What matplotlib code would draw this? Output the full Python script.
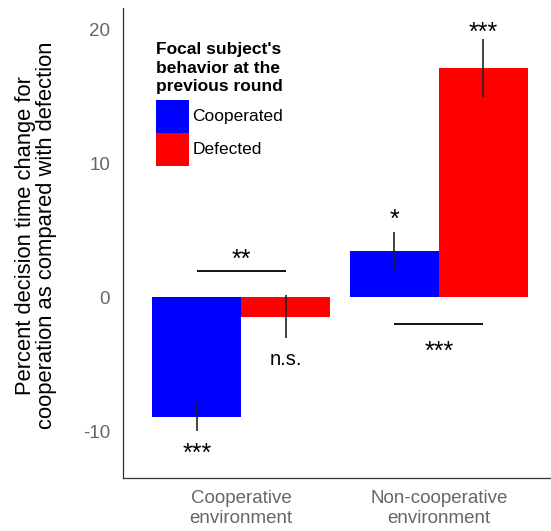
import matplotlib
matplotlib.use('Agg')
import matplotlib.pyplot as plt
import numpy as np
from matplotlib.transforms import offset_copy
from matplotlib.patches import Patch

plt.rcParams['font.family'] = ['Liberation Sans', 'DejaVu Sans']
plt.rcParams['axes.unicode_minus'] = False

# ---- data ----
environments = ['Cooperative\nenvironment', 'Non-cooperative\nenvironment']
behaviors = ['Cooperated', 'Defected']
cooperated_mean = [-8.95, 3.47]
cooperated_err = [1.08, 1.43]
defected_mean = [-1.45, 17.17]
defected_err = [1.62, 2.18]
cooperated_labels = ['***', '*']
cooperated_label_y = [-11.17, 6.34]
defected_labels = ['n.s.', '***']
defected_label_y = [-4.67, 20.3]
bracket_labels = ['**', '***']
bracket_y = [2.0, -2.0]
bracket_label_y = [3.35, -3.5]
legend_title = "Focal subject's\nbehavior at the\nprevious round"
ylabel = 'Percent decision time change for\ncooperation as compared with defection'
yticks = [-10, 0, 10, 20]
colors = ['#0000FF', '#FF0000']

W, H = 551, 531
fig = plt.figure(figsize=(W / 100, H / 100), dpi=100)
ax = fig.add_axes([122.7 / W, 1 - 477.7 / H, (557.3 - 122.7) / W, (477.7 - 8) / H])

x = np.arange(1, len(environments) + 1)
bw = 0.45
xc = x - bw / 2
xd = x + bw / 2
ax.bar(xc, cooperated_mean, width=bw, color=colors[0], label=behaviors[0])
ax.bar(xd, defected_mean, width=bw, color=colors[1], label=behaviors[1])
ax.errorbar(xc, cooperated_mean, yerr=cooperated_err, fmt='none', ecolor='#222222', elinewidth=1.2, capsize=0)
ax.errorbar(xd, defected_mean, yerr=defected_err, fmt='none', ecolor='#222222', elinewidth=1.2, capsize=0)

# brackets
for i in range(len(environments)):
    ax.plot([xc[i], xd[i]], [bracket_y[i], bracket_y[i]], color='black', lw=1.3, solid_capstyle='butt')

def put(xv, yv, s):
    if '*' in s:
        fs = 18
        off = -0.57 * fs
    else:
        fs = 14.5
        off = -0.26 * fs
    tr = offset_copy(ax.transData, fig=fig, x=0, y=off, units='points')
    ax.text(xv, yv, s, transform=tr, ha='center', va='baseline', fontsize=fs, color='black')

for i in range(len(environments)):
    put(xc[i], cooperated_label_y[i], cooperated_labels[i])
    put(xd[i], defected_label_y[i], defected_labels[i])
    put(x[i], bracket_label_y[i], bracket_labels[i])

ax.set_xlim(0.4, 2.6)
ax.set_ylim(-13.49, 21.64)
ax.set_xticks(x)
ax.set_xticklabels(environments, linespacing=1.25)
ax.set_yticks(yticks)
ax.tick_params(axis='both', length=0, labelsize=13.5, labelcolor='#666666')
ax.tick_params(axis='y', pad=9)
ax.tick_params(axis='x', pad=9)
for s in ['top', 'right']:
    ax.spines[s].set_visible(False)
for s in ['left', 'bottom']:
    ax.spines[s].set_color('#333333')
    ax.spines[s].set_linewidth(0.9)
ax.set_ylabel(ylabel, fontsize=15.8, color='black', linespacing=1.0, labelpad=19)
ax.yaxis.label.set_y(0.515)

handles = [Patch(facecolor=c, edgecolor='none') for c in colors]
leg = ax.legend(handles, behaviors, title=legend_title, loc='upper left',
                bbox_to_anchor=(156 / W, 1 - 42 / H), bbox_transform=fig.transFigure,
                frameon=False, fontsize=12.5, title_fontproperties={'weight': 'bold', 'size': 12.5},
                alignment='left', handlelength=1.9, handleheight=2.54, labelspacing=0,
                handletextpad=0.2, borderpad=0, borderaxespad=0)
leg.get_title().set_linespacing(1.3)
leg._legend_box.sep = 4

fig.savefig('out.png', dpi=100)
